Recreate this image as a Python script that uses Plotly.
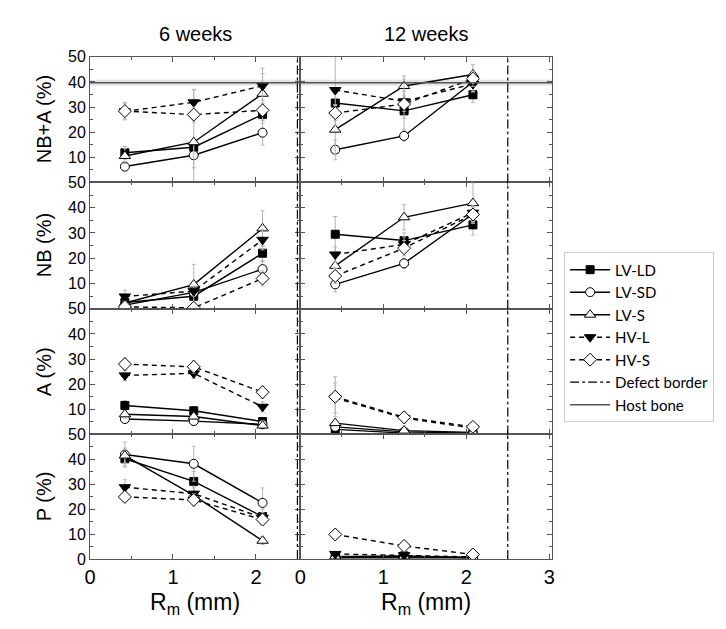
import plotly.graph_objects as go

# ---------------- data ----------------
X_RM = [0.42, 1.25, 2.08]
SERIES = ["LV-LD", "LV-SD", "LV-S", "HV-L", "HV-S"]
COLUMNS = ["6 weeks", "12 weeks"]
ROW_TITLES = ["NB+A (%)", "NB (%)", "A (%)", "P (%)"]
DEFECT_BORDER = 2.5
HOST_BONE_MEAN = 39.7
HOST_BONE_SD = 1.2

NBA_6W = {"LV-LD": [11.8, 14.0, 27.1], "LV-SD": [6.3, 10.8, 19.8], "LV-S": [10.5, 16.0, 35.3],
          "HV-L": [28.3, 31.9, 38.5], "HV-S": [28.4, 27.0, 28.7]}
NBA_6W_ERR = {"LV-LD": [2.5, 3, 3.5], "LV-SD": [1.5, 5, 5], "LV-S": [3, 21, 8],
              "HV-L": [3, 5, 7], "HV-S": [3.5, 3, 4]}
NBA_12W = {"LV-LD": [31.6, 28.5, 34.9], "LV-SD": [13.0, 18.5, 40.0], "LV-S": [21.0, 38.4, 43.0],
           "HV-L": [36.8, 32.3, 39.2], "HV-S": [27.6, 31.2, 41.3]}
NBA_12W_ERR = {"LV-LD": [4, 3, 3], "LV-SD": [4, 2, 4], "LV-S": [10, 4, 4],
               "HV-L": [14, 4, 3], "HV-S": [3, 10, 3]}

NB_6W = {"LV-LD": [2.5, 5.0, 22.0], "LV-SD": [1.5, 6.5, 15.7], "LV-S": [2.3, 9.6, 31.8],
         "HV-L": [4.9, 7.0, 27.3], "HV-S": [0.8, 0.4, 12.0]}
NB_6W_ERR = {"LV-LD": [1, 1.5, 3], "LV-SD": [1, 1.5, 3], "LV-S": [1, 8, 7],
             "HV-L": [2.5, 2, 4], "HV-S": [0.5, 0.5, 3]}
NB_12W = {"LV-LD": [29.5, 27.0, 33.2], "LV-SD": [9.7, 18.0, 37.5], "LV-S": [17.0, 36.2, 41.8],
          "HV-L": [21.5, 25.5, 38.0], "HV-S": [13.0, 24.0, 37.3]}
NB_12W_ERR = {"LV-LD": [7, 3, 4], "LV-SD": [3, 2, 3], "LV-S": [5, 5, 8],
              "HV-L": [3, 3, 3], "HV-S": [3, 3, 3]}

A_6W = {"LV-LD": [11.5, 9.4, 5.1], "LV-SD": [6.1, 5.3, 4.0], "LV-S": [8.0, 7.1, 3.5],
        "HV-L": [23.5, 24.3, 11.0], "HV-S": [28.0, 26.9, 16.8]}
A_6W_ERR = {"LV-LD": [2, 1.5, 1], "LV-SD": [1, 1, 0.8], "LV-S": [1.5, 1, 0.8],
            "HV-L": [2, 2, 2], "HV-S": [2.5, 2.5, 2.5]}
A_12W = {"LV-LD": [2.0, 0.5, 0.4], "LV-SD": [3.0, 1.0, 0.5], "LV-S": [4.5, 1.5, 0.8],
         "HV-L": [14.5, 6.5, 2.5], "HV-S": [15.0, 6.8, 3.0]}
A_12W_ERR = {"LV-LD": [0.5, 0.3, 0.3], "LV-SD": [0.8, 0.3, 0.3], "LV-S": [1, 0.5, 0.3],
             "HV-L": [6, 2, 1], "HV-S": [8, 2, 1]}

P_6W = {"LV-LD": [40.2, 31.1, 17.0], "LV-SD": [41.9, 38.2, 22.5], "LV-S": [41.5, 25.5, 7.3],
        "HV-L": [28.8, 26.2, 16.5], "HV-S": [24.9, 23.7, 15.8]}
P_6W_ERR = {"LV-LD": [3, 4, 3], "LV-SD": [5, 7, 6], "LV-S": [3, 3, 1.5],
            "HV-L": [3, 3, 2], "HV-S": [2, 2.5, 2]}
P_12W = {"LV-LD": [0.8, 1.2, 0.5], "LV-SD": [0.5, 0.5, 0.4], "LV-S": [1.0, 1.0, 0.6],
         "HV-L": [2.0, 1.5, 0.8], "HV-S": [9.8, 5.2, 1.8]}
P_12W_ERR = {"LV-LD": [0.3, 0.3, 0.3], "LV-SD": [0.3, 0.3, 0.3], "LV-S": [0.3, 0.3, 0.3],
             "HV-L": [1, 0.5, 0.3], "HV-S": [2, 2, 1]}

PANELS = [
    [(NBA_6W, NBA_6W_ERR), (NBA_12W, NBA_12W_ERR)],
    [(NB_6W, NB_6W_ERR), (NB_12W, NB_12W_ERR)],
    [(A_6W, A_6W_ERR), (A_12W, A_12W_ERR)],
    [(P_6W, P_6W_ERR), (P_12W, P_12W_ERR)],
]

# ---------------- styles ----------------
STYLE = {
    "LV-LD": dict(symbol="square", fill="black", dash="solid", size=8),
    "LV-SD": dict(symbol="circle", fill="white", dash="solid", size=9),
    "LV-S": dict(symbol="triangle-up", fill="white", dash="solid", size=10),
    "HV-L": dict(symbol="triangle-down", fill="black", dash="5px,4px", size=10),
    "HV-S": dict(symbol="diamond", fill="white", dash="5px,4px", size=10),
}

W, H = 726, 629
COL_PX = [(77, 290), (290, 545)]
ROW_PX = [(42, 171), (171, 301), (301, 430), (430, 558)]
X_RANGES = [[0, 2.536], [0, 3.036]]
AXIS_COLOR = "#555555"
FONT = "Liberation Sans, Arial, sans-serif"

fig = go.Figure()
layout = dict(width=W, height=H, margin=dict(l=0, r=0, t=0, b=0),
              plot_bgcolor="white", paper_bgcolor="white", showlegend=True)
shapes = []
annotations = []

for r in range(4):
    for c in range(2):
        k = r * 2 + c + 1
        xa = "x" if k == 1 else f"x{k}"
        ya = "y" if k == 1 else f"y{k}"
        xkey = "xaxis" if k == 1 else f"xaxis{k}"
        ykey = "yaxis" if k == 1 else f"yaxis{k}"
        x0p, x1p = COL_PX[c]
        y0p, y1p = ROW_PX[r]
        bottom_row = r == 3
        layout[xkey] = dict(
            domain=[x0p / W, x1p / W], anchor=ya, range=X_RANGES[c],
            showline=True, linecolor=AXIS_COLOR, linewidth=1, mirror="allticks",
            ticks="inside", ticklen=5, tickcolor=AXIS_COLOR, dtick=1, tick0=0,
            minor=dict(dtick=0.5, ticks="inside", ticklen=3, tickcolor=AXIS_COLOR),
            showgrid=False, zeroline=False, showticklabels=bottom_row,
            tickfont=dict(family=FONT, size=20, color="black"),
        )
        tv = [0, 10, 20, 30, 40, 50] if r == 3 else [10, 20, 30, 40, 50]
        layout[ykey] = dict(
            domain=[1 - y1p / H, 1 - y0p / H], anchor=xa, range=[0, 50],
            showline=True, linecolor=AXIS_COLOR, linewidth=1, mirror="allticks",
            ticks="inside", ticklen=5, tickcolor=AXIS_COLOR, tickvals=tv,
            minor=dict(dtick=5, tick0=0, ticks="inside", ticklen=3, tickcolor=AXIS_COLOR),
            showgrid=False, zeroline=False, showticklabels=(c == 0),
            tickfont=dict(family=FONT, size=16, color="black"),
        )

        # host bone band in top row
        if r == 0:
            shapes.append(dict(type="rect", xref=f"{xa} domain", yref=ya, x0=0, x1=1,
                               y0=HOST_BONE_MEAN - HOST_BONE_SD, y1=HOST_BONE_MEAN + HOST_BONE_SD,
                               fillcolor="#e4e4e4", line=dict(width=0), layer="below"))
            shapes.append(dict(type="line", xref=f"{xa} domain", yref=ya, x0=0, x1=1,
                               y0=HOST_BONE_MEAN, y1=HOST_BONE_MEAN,
                               line=dict(color="#555555", width=1.5)))
        # defect border
        shapes.append(dict(type="line", xref=xa, yref=f"{ya} domain", x0=DEFECT_BORDER,
                           x1=DEFECT_BORDER, y0=0, y1=1,
                           line=dict(color="black", width=1.2, dash="dashdot")))

        vals, errs = PANELS[r][c]
        for s in SERIES:
            st = STYLE[s]
            fig.add_trace(go.Scatter(
                x=X_RM, y=vals[s], xaxis=xa, yaxis=ya, mode="lines+markers",
                name=s, legendgroup=s, showlegend=(k == 1),
                line=dict(color="black", width=1.4, dash=st["dash"]),
                marker=dict(symbol=st["symbol"], size=st["size"], color=st["fill"],
                            line=dict(color="black", width=1)),
                error_y=dict(type="data", array=errs[s], color="#b5b5b5", thickness=1, width=2),
            ))

# legend-only entries
fig.add_trace(go.Scatter(x=[None], y=[None], mode="lines", name="Defect border",
                         line=dict(color="black", width=1.2, dash="dashdot")))
fig.add_trace(go.Scatter(x=[None], y=[None], mode="lines", name="Host bone",
                         line=dict(color="#555555", width=1.5)))

# titles
for c, title in enumerate(COLUMNS):
    cx = (COL_PX[c][0] + COL_PX[c][1]) / 2 / W
    annotations.append(dict(text=title, x=cx, y=1 - 18 / H, xref="paper", yref="paper",
                            showarrow=False, xanchor="center", yanchor="middle",
                            font=dict(family=FONT, size=20, color="black")))
    annotations.append(dict(text="R<sub>m</sub> (mm)", x=cx, y=1 - 604 / H, xref="paper", yref="paper",
                            showarrow=False, xanchor="center", yanchor="middle",
                            font=dict(family=FONT, size=23, color="black")))
for r, title in enumerate(ROW_TITLES):
    cy = 1 - (ROW_PX[r][0] + ROW_PX[r][1]) / 2 / H
    annotations.append(dict(text=title, x=30 / W, y=cy, xref="paper", yref="paper",
                            showarrow=False, xanchor="center", yanchor="middle", textangle=-90,
                            font=dict(family=FONT, size=20, color="black")))

layout["shapes"] = shapes
layout["annotations"] = annotations
layout["legend"] = dict(x=557 / W, y=1 - 243 / H, xanchor="left", yanchor="top",
                        bordercolor="#cccccc", borderwidth=1, bgcolor="white",
                        font=dict(family="Lato, Open Sans, sans-serif", size=15, color="black"),
                        tracegroupgap=0, itemwidth=40)
fig.update_layout(**layout)
fig.write_html("out.html")
